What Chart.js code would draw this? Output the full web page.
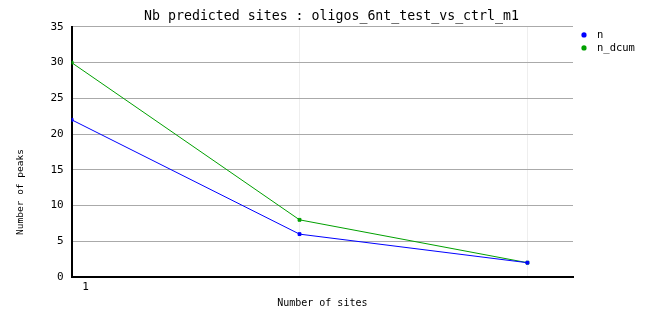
<!DOCTYPE html>
<html>
<head>
<meta charset="utf-8">
<script src="https://cdn.jsdelivr.net/npm/chart.js@4"></script>
<style>
	html, body { margin: 0; padding: 0; background: #fff; }
	#wrap { width: 662px; height: 328px; }
</style>
</head>
<body>
<div id="wrap"><canvas id="chart" width="662" height="328"></canvas></div>
<script>
// values
const sites = [1, 2, 3];
const nValues = [22, 6, 2];
const nDcumValues = [30, 8, 2];
const yTicks = [0, 5, 10, 15, 20, 25, 30, 35];

const mono = "'DejaVu Sans Mono', monospace";

function toPoints(xs, ys)
{
	return xs.map(function (x, i) { return { x: x, y: ys[i] }; });
}

// small legend drawn to the right of the plot, like the original
const sideLegend = {
	id: 'sideLegend',
	afterDraw: function (chart) {
		const c = chart.ctx;
		const x0 = chart.chartArea.right + 11;
		c.save();
		c.font = '10.5px ' + mono;
		c.textBaseline = 'middle';
		chart.data.datasets.forEach(function (ds, i) {
			const y = chart.chartArea.top + 8 + i * 13;
			c.fillStyle = ds.borderColor;
			c.beginPath();
			c.arc(x0, y, 2.6, 0, Math.PI * 2);
			c.fill();
			c.fillStyle = '#000';
			c.fillText(ds.label, x0 + 13, y);
		});
		c.restore();
	}
};

const ctx = document.getElementById('chart').getContext('2d');
new Chart(ctx, {
	type: 'line',
	data: {
		datasets: [{
			label: 'n',
			data: toPoints(sites, nValues),
			borderColor: '#0000ff',
			backgroundColor: '#0000ff',
			borderWidth: 1,
			pointStyle: 'rect',
			pointRadius: 2,
			tension: 0
		}, {
			label: 'n_dcum',
			data: toPoints(sites, nDcumValues),
			borderColor: '#00a000',
			backgroundColor: '#00a000',
			borderWidth: 1,
			pointStyle: 'rect',
			pointRadius: 2,
			tension: 0
		}]
	},
	options: {
		responsive: false,
		animation: false,
		layout: { padding: { left: 11, right: 10, top: 5, bottom: 12 } },
		plugins: {
			title: {
				display: true,
				text: 'Nb predicted sites : oligos_6nt_test_vs_ctrl_m1',
				color: '#000',
				font: { family: mono, size: 13.25, weight: 'normal' },
				padding: { top: 4, bottom: 2 }
			},
			legend: { display: false },
			tooltip: { enabled: false }
		},
		scales: {
			x: {
				type: 'linear',
				min: 1,
				max: 3.2,
				afterBuildTicks: function (axis) {
					axis.ticks = sites.map(function (v) { return { value: v }; });
				},
				grid: {
					color: function (c) { return c.tick && c.tick.value === 1 ? 'rgba(0,0,0,0)' : '#eeeeee'; },
					drawTicks: false
				},
				border: { color: '#000', width: 2 },
				ticks: {
					color: '#000',
					font: { family: mono, size: 11, lineHeight: 1 },
					labelOffset: 14,
					padding: 5,
					callback: function (v) { return v === 1 ? '1' : ''; }
				},
				title: {
					display: true,
					text: 'Number of sites',
					color: '#000',
					font: { family: mono, size: 10, lineHeight: 1 },
					padding: { top: 0, bottom: 8 }
				}
			},
			y: {
				min: 0,
				max: 35,
				afterBuildTicks: function (axis) {
					axis.ticks = yTicks.map(function (v) { return { value: v }; });
				},
				grid: { color: '#aaaaaa', drawTicks: false },
				border: { color: '#000', width: 2 },
				ticks: {
					color: '#000',
					font: { family: mono, size: 11 },
					padding: 8
				},
				title: {
					display: true,
					// trailing spaces push the label lower, as in the original
					text: 'Number of peaks              ',
					color: '#000',
					font: { family: mono, size: 9.5 },
					padding: { bottom: 16 }
				}
			},
			// empty axis that only keeps room for the legend on the right
			legendRoom: {
				position: 'right',
				display: true,
				grid: { display: false, drawTicks: false },
				border: { display: false },
				ticks: { display: false },
				afterFit: function (axis) { axis.width = 79; }
			}
		}
	},
	plugins: [sideLegend]
});
</script>
</body>
</html>
